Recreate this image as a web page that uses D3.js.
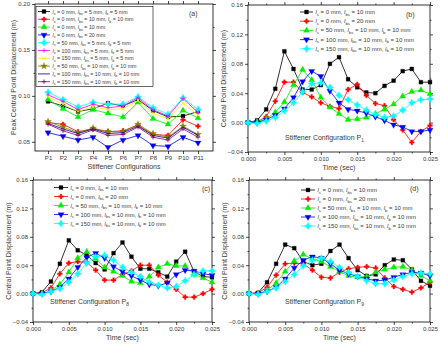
<!DOCTYPE html>
<html>
<head>
<meta charset="utf-8">
<script src="https://cdn.jsdelivr.net/npm/d3@7"></script>
<style>
  body { margin: 0; background: #fff; }
  text { font-family: "Liberation Sans", Arial, sans-serif; fill: #3a3a3a; }
</style>
</head>
<body>
<svg id="chart" width="440" height="350"></svg>
<script>
// ---- panel (a): peak displacement per stiffener configuration ----
var configs = ["P1", "P2", "P3", "P4", "P5", "P6", "P7", "P8", "P9", "P10", "P11"];
var legendA = [
  "l_s = 0 mm, l_bs = 5 mm, l_b = 5 mm",
  "l_s = 0 mm, l_bs = 10 mm, l_b = 10 mm",
  "l_s = 0 mm, l_bs = 10 mm",
  "l_s = 0 mm, l_bs = 20 mm",
  "l_s = 50 mm, l_bs = 5 mm, l_b = 5 mm",
  "l_s = 100 mm, l_bs = 5 mm, l_b = 5 mm",
  "l_s = 150 mm, l_bs = 5 mm, l_b = 5 mm",
  "l_s = 50 mm, l_bs = 10 mm, l_b = 10 mm",
  "l_s = 100 mm, l_bs = 10 mm, l_b = 10 mm",
  "l_s = 150 mm, l_bs = 10 mm, l_b = 10 mm"
];
var aS0B5    = [0.094, 0.089, 0.083, 0.086, 0.092, 0.089, 0.096, 0.084, 0.077, 0.078, 0.083];
var aS0B10   = [0.071, 0.069, 0.061, 0.064, 0.061, 0.062, 0.068, 0.058, 0.057, 0.074, 0.067];
var aS0BS10  = [0.096, 0.086, 0.077, 0.085, 0.081, 0.077, 0.093, 0.075, 0.069, 0.084, 0.076];
var aS0BS20  = [0.060, 0.056, 0.052, 0.055, 0.044, 0.052, 0.057, 0.046, 0.045, 0.055, 0.049];
var aS50B5   = [0.104, 0.096, 0.088, 0.093, 0.091, 0.091, 0.099, 0.087, 0.080, 0.098, 0.085];
var aS100B5  = [0.101, 0.094, 0.085, 0.091, 0.087, 0.089, 0.098, 0.085, 0.078, 0.097, 0.082];
var aS150B5  = [0.099, 0.091, 0.083, 0.088, 0.085, 0.086, 0.095, 0.081, 0.075, 0.092, 0.079];
var aS50B10  = [0.072, 0.066, 0.060, 0.065, 0.061, 0.061, 0.069, 0.059, 0.055, 0.067, 0.058];
var aS100B10 = [0.070, 0.064, 0.059, 0.064, 0.059, 0.060, 0.067, 0.057, 0.054, 0.066, 0.057];
var aS150B10 = [0.069, 0.062, 0.057, 0.063, 0.057, 0.058, 0.066, 0.055, 0.052, 0.064, 0.055];
var aTicks = ["0.05", "0.10", "0.15", "0.20"];

// ---- panels (b)-(d): time histories ----
var time = [0, 0.00125, 0.0025, 0.00375, 0.005, 0.00625, 0.0075, 0.00875, 0.01, 0.01125, 0.0125,
            0.01375, 0.015, 0.01625, 0.0175, 0.01875, 0.02, 0.02125, 0.0225, 0.02375, 0.025];
var legendT = [
  "l_s = 0 mm, l_bs = 10 mm",
  "l_s = 0 mm, l_bs = 20 mm",
  "l_s = 50 mm, l_bs = 10 mm, l_b = 10 mm",
  "l_s = 100 mm, l_bs = 10 mm, l_b = 10 mm",
  "l_s = 150 mm, l_bs = 10 mm, l_b = 10 mm"
];

// configuration P1
var bS0BS10 = [0, 0.003, 0.018, 0.046, 0.097, 0.073, 0.045, 0.045, 0.051, 0.080, 0.089, 0.059, 0.048, 0.041, 0.040, 0.050, 0.057, 0.070, 0.073, 0.055, 0.055];
var bS0BS20 = [0, 0.001, 0.008, 0.029, 0.055, 0.055, 0.041, 0.035, 0.027, 0.022, 0.019, 0.045, 0.052, 0.037, 0.026, 0.023, 0.004, -0.010, -0.027, -0.012, -0.004];
var bS50    = [0, 0.001, 0.005, 0.014, 0.028, 0.051, 0.072, 0.058, 0.034, 0.021, 0.012, 0.004, 0.005, 0.007, 0.012, 0.018, 0.025, 0.036, 0.042, 0.044, 0.039];
var bS100   = [0, 0, 0.004, 0.010, 0.019, 0.034, 0.056, 0.070, 0.063, 0.043, 0.027, 0.018, 0.016, 0.013, 0.008, 0.003, -0.003, -0.006, -0.012, -0.012, -0.010];
var bS150   = [0, -0.001, 0.002, 0.007, 0.016, 0.027, 0.042, 0.053, 0.054, 0.048, 0.037, 0.031, 0.024, 0.017, 0.011, 0.007, 0.009, 0.017, 0.027, 0.031, 0.032];

// configuration P8
var cS0BS10 = [0, 0.002, 0.017, 0.042, 0.075, 0.061, 0.054, 0.043, 0.034, 0.057, 0.072, 0.052, 0.035, 0.035, 0.030, 0.024, 0.045, 0.059, 0.031, 0.024, 0.023];
var cS0BS20 = [0, 0.001, 0.008, 0.028, 0.043, 0.045, 0.044, 0.033, 0.019, 0.019, 0.027, 0.032, 0.040, 0.040, 0.026, 0.016, 0.006, -0.005, -0.005, 0.000, 0.006];
var cS50    = [0, 0, 0.004, 0.013, 0.030, 0.050, 0.059, 0.049, 0.037, 0.031, 0.025, 0.017, 0.015, 0.024, 0.037, 0.042, 0.039, 0.039, 0.027, 0.022, 0.016];
var cS100   = [0, 0, 0.003, 0.009, 0.021, 0.037, 0.051, 0.057, 0.050, 0.038, 0.031, 0.025, 0.019, 0.013, 0.011, 0.015, 0.027, 0.033, 0.032, 0.028, 0.026];
var cS150   = [0, -0.001, 0.003, 0.007, 0.016, 0.028, 0.043, 0.052, 0.054, 0.047, 0.037, 0.030, 0.024, 0.016, 0.012, 0.008, 0.010, 0.018, 0.027, 0.032, 0.032];

// configuration P9
var dS0BS10 = [0, 0.001, 0.016, 0.042, 0.069, 0.064, 0.045, 0.040, 0.042, 0.060, 0.069, 0.050, 0.033, 0.025, 0.027, 0.040, 0.048, 0.047, 0.034, 0.018, 0.011];
var dS0BS20 = [0, 0.001, 0.009, 0.026, 0.042, 0.043, 0.042, 0.033, 0.023, 0.022, 0.030, 0.035, 0.037, 0.038, 0.036, 0.022, 0.010, 0.006, 0.002, 0.008, 0.016];
var dS50    = [0, 0, 0.005, 0.015, 0.031, 0.046, 0.055, 0.049, 0.045, 0.038, 0.031, 0.025, 0.023, 0.024, 0.030, 0.034, 0.037, 0.038, 0.033, 0.025, 0.018];
var dS100   = [0, 0, 0.003, 0.009, 0.021, 0.036, 0.047, 0.052, 0.050, 0.042, 0.033, 0.028, 0.024, 0.021, 0.018, 0.019, 0.023, 0.027, 0.030, 0.029, 0.025];
var dS150   = [0, -0.001, 0.003, 0.008, 0.017, 0.027, 0.039, 0.047, 0.050, 0.045, 0.037, 0.030, 0.024, 0.018, 0.014, 0.014, 0.019, 0.024, 0.028, 0.029, 0.028];

var svg = d3.select("#chart");

// marker shapes (Origin-like)
var starFour = { draw: function(ctx, size) {
  var r = Math.sqrt(size) * 0.75, s = r * 0.35;
  ctx.moveTo(0, -r); ctx.lineTo(s, -s); ctx.lineTo(r, 0); ctx.lineTo(s, s);
  ctx.lineTo(0, r); ctx.lineTo(-s, s); ctx.lineTo(-r, 0); ctx.lineTo(-s, -s); ctx.closePath();
}};
var plusLine = { draw: function(ctx, size) {
  var r = Math.sqrt(size) / 2;
  ctx.moveTo(-r, 0); ctx.lineTo(r, 0); ctx.moveTo(0, -r); ctx.lineTo(0, r);
}};
var timesLine = { draw: function(ctx, size) {
  var r = Math.sqrt(size) / 2.4;
  ctx.moveTo(-r, -r); ctx.lineTo(r, r); ctx.moveTo(-r, r); ctx.lineTo(r, -r);
}};
var markers = {
  square:  { type: d3.symbolSquare, size: 15, filled: true },
  cross:   { type: d3.symbolCross, size: 13, filled: true },
  tri:     { type: d3.symbolTriangle, size: 16, filled: true },
  tridown: { type: d3.symbolTriangle, size: 16, filled: true, rotate: 180 },
  star4:   { type: starFour, size: 24, filled: true },
  plus:    { type: plusLine, size: 20, filled: false },
  times:   { type: timesLine, size: 20, filled: false },
  star:    { type: d3.symbolStar, size: 15, filled: true },
  none:    null
};

function drawMarker(sel, m, color) {
  if (!m) return sel;
  return sel.attr("d", d3.symbol().type(m.type).size(m.size))
    .attr("fill", m.filled ? color : "none")
    .attr("stroke", color)
    .attr("stroke-width", m.filled ? 0.3 : 0.8);
}

// text with italic l and subscripts, e.g. "l_bs" or "P_1"
function richText(text, label) {
  var shift = 0;
  label.split(/([lP]_[a-z0-9]+)/).forEach(function(part) {
    if (!part) return;
    var m = part.match(/^([lP])_([a-z0-9]+)$/);
    if (m) {
      text.append("tspan").attr("dy", shift).style("font-style", m[1] == "l" ? "italic" : "normal").text(m[1]);
      text.append("tspan").attr("dy", 1.6).attr("font-size", "0.7em").text(m[2]);
      shift = -1.6;
    } else {
      text.append("tspan").attr("dy", shift).text(part);
      shift = 0;
    }
  });
}

function panel(p) {
  var g = svg.append("g").attr("transform", "translate(" + p.left + "," + p.top + ")");
  var x = p.x.range([0, p.width]);
  var y = p.y.range([p.height, 0]);

  function styleAxis(a) {
    a.select(".domain").remove();
    a.selectAll("line").attr("stroke", "#000").attr("stroke-width", 0.7);
    a.selectAll("text").attr("font-size", 6).attr("font-family", "Liberation Sans, Arial, sans-serif")
      .attr("fill", "#3a3a3a");
  }

  // minor ticks
  if (p.xMinor) {
    g.append("g").attr("transform", "translate(0," + p.height + ")")
      .call(d3.axisBottom(x).tickValues(p.xMinor).tickSize(1.5).tickFormat("")).call(styleAxis);
    g.append("g").call(d3.axisTop(x).tickValues(p.xMinor).tickSize(1.5).tickFormat("")).call(styleAxis);
  }
  g.append("g").call(d3.axisLeft(y).tickValues(p.yMinor).tickSize(1.5).tickFormat("")).call(styleAxis);
  g.append("g").attr("transform", "translate(" + p.width + ",0)")
    .call(d3.axisRight(y).tickValues(p.yMinor).tickSize(1.5).tickFormat("")).call(styleAxis);

  // major ticks
  g.append("g").attr("transform", "translate(0," + p.height + ")")
    .call(d3.axisBottom(x).tickValues(p.xTicks).tickSize(3).tickPadding(2).tickFormat(p.xFormat)).call(styleAxis);
  g.append("g").call(d3.axisTop(x).tickValues(p.xTicks).tickSize(3).tickFormat("")).call(styleAxis);
  g.append("g").call(d3.axisLeft(y).tickValues(p.yTicks).tickSize(3).tickPadding(2).tickFormat(d3.format(".2f"))).call(styleAxis);
  g.append("g").attr("transform", "translate(" + p.width + ",0)")
    .call(d3.axisRight(y).tickValues(p.yTicks).tickSize(3).tickFormat("")).call(styleAxis);

  // frame
  g.append("rect").attr("width", p.width).attr("height", p.height)
    .attr("fill", "none").attr("stroke", "#000").attr("stroke-width", 0.8);

  // axis titles
  g.append("text")
    .attr("x", p.width / 2).attr("y", p.height + p.xTitleOffset)
    .attr("text-anchor", "middle").attr("font-size", 7)
    .text(p.xTitle);
  g.append("text")
    .attr("transform", "rotate(-90)")
    .attr("x", -p.height / 2).attr("y", -p.yTitleOffset)
    .attr("text-anchor", "middle").attr("font-size", 7)
    .text(p.yTitle);

  // lines and markers
  var line = d3.line()
    .x(function(d) { return x(d[0]); })
    .y(function(d) { return y(d[1]); });

  p.series.forEach(function(s) {
    var pts = s.values.map(function(v, i) { return [p.xValues[i], v]; });
    g.append("path").datum(pts)
      .attr("fill", "none").attr("stroke", s.color).attr("stroke-width", 0.8)
      .attr("d", line);
    var m = markers[s.marker];
    if (m) {
      g.selectAll(null).data(pts).enter().append("path")
        .attr("transform", function(d) {
          return "translate(" + x(d[0]) + "," + y(d[1]) + ")" + (m.rotate ? " rotate(" + m.rotate + ")" : "");
        })
        .call(drawMarker, m, s.color);
    }
  });

  // legend
  var lg = g.append("g").attr("transform", "translate(" + p.legend.x + "," + p.legend.y + ")");
  if (p.legend.box) {
    lg.append("rect")
      .attr("x", -2).attr("y", -5).attr("width", p.legend.box[0]).attr("height", p.legend.box[1])
      .attr("fill", "#fff").attr("stroke", "#000").attr("stroke-width", 0.6);
  }
  p.series.forEach(function(s, i) {
    var row = lg.append("g").attr("transform", "translate(0," + (i * p.legend.step) + ")");
    row.append("line").attr("x1", 0).attr("x2", p.legend.sample)
      .attr("stroke", s.color).attr("stroke-width", 0.8);
    var m = markers[s.marker];
    if (m) {
      row.append("path")
        .attr("transform", "translate(" + (p.legend.sample / 2) + ",0)" + (m.rotate ? " rotate(" + m.rotate + ")" : ""))
        .call(drawMarker, m, s.color);
    }
    var t = row.append("text").attr("x", p.legend.sample + 2.5).attr("y", 2)
      .attr("font-size", p.legend.font);
    richText(t, s.label);
  });

  // panel letter and caption
  g.append("text").attr("x", p.tag[0]).attr("y", p.tag[1]).attr("font-size", 7).text(p.tag[2]);
  if (p.caption) {
    var c = g.append("text").attr("x", p.caption[0]).attr("y", p.caption[1]).attr("font-size", 7);
    richText(c, p.caption[2]);
  }
}

var tColors = ["#000000", "#ff0000", "#00ee00", "#0000ff", "#00ffff"];
var tMarkers = ["square", "cross", "tri", "tridown", "star4"];

function timeSeries(arrays) {
  return arrays.map(function(v, i) {
    return { label: legendT[i], values: v, color: tColors[i], marker: tMarkers[i] };
  });
}

var timeTicks = [0, 0.005, 0.01, 0.015, 0.02, 0.025];
var timeMinor = [0.0025, 0.0075, 0.0125, 0.0175, 0.0225];
var dispTicks = [-0.04, 0, 0.04, 0.08, 0.12, 0.16];
var dispMinor = [-0.02, 0.02, 0.06, 0.10, 0.14];

// (a)
panel({
  left: 35, top: 4, width: 178, height: 147,
  x: d3.scaleLinear().domain([0.13, 12]),
  y: d3.scaleLinear().domain([0.04, 0.20]),
  xValues: [1, 2, 3, 4, 5, 6, 7, 8, 9, 10, 11],
  xTicks: [1, 2, 3, 4, 5, 6, 7, 8, 9, 10, 11],
  xFormat: function(d) { return configs[d - 1]; },
  yTicks: aTicks.map(Number),
  yMinor: [0.075, 0.125, 0.175],
  xTitle: "Stiffener Configurations", xTitleOffset: 18,
  yTitle: "Peak Central Point Displacement (m)", yTitleOffset: 19,
  series: [
    { label: legendA[0], values: aS0B5,    color: "#000000", marker: "square" },
    { label: legendA[1], values: aS0B10,   color: "#ff0000", marker: "cross" },
    { label: legendA[2], values: aS0BS10,  color: "#00ee00", marker: "tri" },
    { label: legendA[3], values: aS0BS20,  color: "#0000ff", marker: "tridown" },
    { label: legendA[4], values: aS50B5,   color: "#00ffff", marker: "star4" },
    { label: legendA[5], values: aS100B5,  color: "#ff00ff", marker: "plus" },
    { label: legendA[6], values: aS150B5,  color: "#f0f000", marker: "times" },
    { label: legendA[7], values: aS50B10,  color: "#808000", marker: "star" },
    { label: legendA[8], values: aS100B10, color: "#000080", marker: "none" },
    { label: legendA[9], values: aS150B10, color: "#800080", marker: "plus" }
  ],
  legend: { x: 3, y: 7.5, step: 7.8, sample: 12, font: 5.3, box: [117, 80] },
  tag: [154, 12, "(a)"]
});

// (b)
panel({
  left: 248, top: 5, width: 182, height: 147,
  x: d3.scaleLinear().domain([0, 0.025]),
  y: d3.scaleLinear().domain([-0.04, 0.16]),
  xValues: time, xTicks: timeTicks, xMinor: timeMinor, xFormat: d3.format(".3f"),
  yTicks: dispTicks, yMinor: dispMinor,
  xTitle: "Time (sec)", xTitleOffset: 18,
  yTitle: "Central Point Displacement (m)", yTitleOffset: 22,
  series: timeSeries([bS0BS10, bS0BS20, bS50, bS100, bS150]),
  legend: { x: 52, y: 7, step: 9.2, sample: 13, font: 6 },
  tag: [158, 12, "(b)"],
  caption: [37, 135, "Stiffener Configuration P_1"]
});

// (c)
panel({
  left: 33, top: 180, width: 179, height: 142,
  x: d3.scaleLinear().domain([0, 0.025]),
  y: d3.scaleLinear().domain([-0.04, 0.16]),
  xValues: time, xTicks: timeTicks, xMinor: timeMinor, xFormat: d3.format(".3f"),
  yTicks: dispTicks, yMinor: dispMinor,
  xTitle: "Time (sec)", xTitleOffset: 18,
  yTitle: "Central Point Displacement (m)", yTitleOffset: 22,
  series: timeSeries([cS0BS10, cS0BS20, cS50, cS100, cS150]),
  legend: { x: 21, y: 7.5, step: 9, sample: 14, font: 5.8 },
  tag: [169, 11, "(c)"],
  caption: [17, 124, "Stiffener Configuration P_8"]
});

// (d)
panel({
  left: 249, top: 180, width: 181, height: 142,
  x: d3.scaleLinear().domain([0, 0.025]),
  y: d3.scaleLinear().domain([-0.04, 0.16]),
  xValues: time, xTicks: timeTicks, xMinor: timeMinor, xFormat: d3.format(".3f"),
  yTicks: dispTicks, yMinor: dispMinor,
  xTitle: "Time (sec)", xTitleOffset: 18,
  yTitle: "Central Point Displacement (m)", yTitleOffset: 22,
  series: timeSeries([dS0BS10, dS0BS20, dS50, dS100, dS150]),
  legend: { x: 52, y: 10, step: 9, sample: 14, font: 6 },
  tag: [161, 11, "(d)"],
  caption: [36, 124, "Stiffener Configuration P_9"]
});
</script>
</body>
</html>
